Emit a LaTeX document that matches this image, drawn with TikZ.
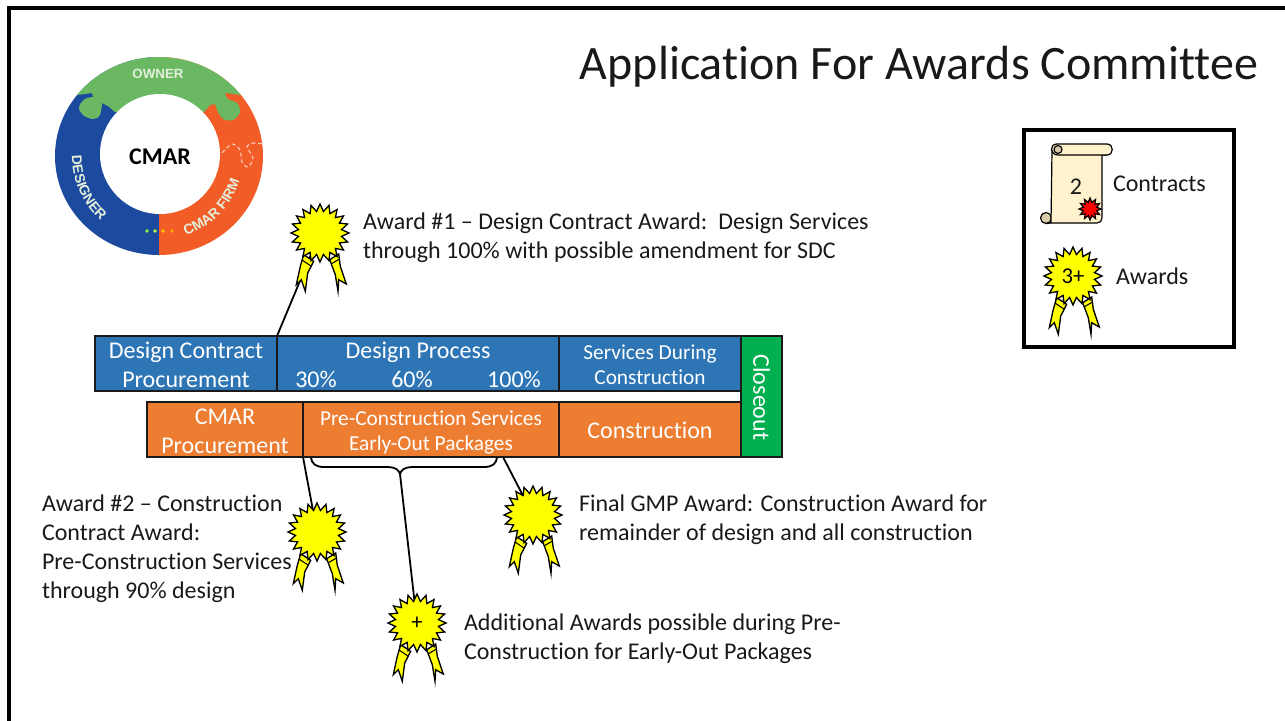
\documentclass[tikz,border=0pt]{standalone}
\usepackage{fontspec}
\setmainfont{Carlito}[Ligatures=NoCommon]
\newfontfamily\ringfont{Liberation Sans}
\usetikzlibrary{shapes.geometric,backgrounds,decorations.text}
\definecolor{barblue}{HTML}{2E75B6}
\definecolor{barorange}{HTML}{ED7D31}
\definecolor{bargreen}{HTML}{00B050}
\definecolor{barline}{HTML}{1A1A1A}
\definecolor{ringgreen}{HTML}{6BB862}
\definecolor{ringblue}{HTML}{1C4A9E}
\definecolor{ringorange}{HTML}{F25C27}
\definecolor{scrollfill}{HTML}{FFF2CC}
\definecolor{curlfill}{HTML}{D9CBA8}
\definecolor{ringtext}{HTML}{E4EFDC}
\definecolor{awardyellow}{HTML}{FFFF00}
\definecolor{sealred}{HTML}{FF0000}
\newcommand{\bodysize}{\fontsize{18}{21.75}\selectfont}
\newcommand{\midsize}{\fontsize{16}{18.75}\selectfont}
\tikzset{
  every node/.style={outer sep=0pt},
  pxsize/.style 2 args={minimum width=#1*0.75pt,minimum height=#2*0.75pt},
  barbox/.style={draw=barline,line width=1pt,inner sep=0pt,anchor=center},
  barlabel/.style={text=white,inner sep=0pt,align=center,font=\bodysize},
  bodytext/.style={inner sep=0pt,anchor=west,align=left,font=\bodysize,text=black!90},
  awardstar/.style={star,star points=20,star point ratio=1.33,draw=black,fill=awardyellow,line width=1pt,
    minimum size=58*0.75pt,inner sep=0pt,font=\fontsize{17}{17}\selectfont},
  ribbon/.style={draw=black,fill=awardyellow,line width=1pt,line join=miter},
  conn/.style={draw=black,line width=1.35pt},
  scrollpart/.style={draw=black,fill=scrollfill,line width=0.9pt},
  pics/rosette/.style={code={
    \path[ribbon] (-16.3,-21.7) -- (-6.3,-28.3) -- (-12.3,-40) -- (-14.7,-58.3) -- (-18.7,-46.7) -- (-23.7,-51.7) -- (-19.7,-33.3) -- cycle;
    \path[ribbon] (9.7,-26.7) -- (18.7,-21) -- (20.3,-33.3) -- (26.3,-51) -- (18.7,-46.7) -- (18,-58.3) -- (15.3,-41.7) -- cycle;
    \draw[black,line width=0.8pt] (-18,-27) -- (-9,-33);
    \draw[black,line width=0.8pt] (11,-31) -- (19.5,-26);
    \node[awardstar] (-star) at (0,0) {\tikzpictext};
  }},
}
\begin{document}
\begin{tikzpicture}[x=0.75pt,y=0.75pt]
\useasboundingbox (0,0) rectangle (1285,-721);
% slide frame
\draw[line width=2.4pt,black] (1285,-8) -- (9,-8) -- (9,-721);
% title
\node[inner sep=0pt,font=\fontsize{36}{42}\selectfont,text=black!90] (title) at (919,-67) {Application For Awards Committee};
% logo ring
\fill[ringblue] (159,-255) arc[start angle=270,end angle=90,x radius=104,y radius=99] -- cycle;
\fill[ringorange] (159,-57) arc[start angle=90,end angle=-90,x radius=104,y radius=99] -- cycle;
\fill[ringgreen] (159,-156) ++(142:104 and 99) arc[start angle=142,end angle=38,x radius=104,y radius=99]
  -- (225,-93) -- plot[smooth,tension=0.6] coordinates {(225,-93) (228,-99) (237,-103) (240,-112) (233,-120) (223,-119) (218,-112) (215,-104)}
  -- (210,-105) -- (204,-112) -- (115,-112) -- (108,-106) --
  plot[smooth,tension=0.6] coordinates {(102,-103) (100,-115) (93,-119) (83,-115) (79,-107) (85,-99) (93,-97)}
  -- (92,-93) -- cycle;
\node[circle,fill=white,inner sep=0pt,minimum size=120*0.75pt] (hub) at (160,-154) {};
\node[inner sep=0pt,font=\fontsize{18}{20}\selectfont\bfseries] (cmar) at (160,-157) {CMAR};
\node[inner sep=0pt,text=ringtext,font=\ringfont\fontsize{10}{12}\selectfont\bfseries] (owner) at (158,-74) {OWNER};
\path[decorate,decoration={text along path,text align=center,text={|\ringfont\fontsize{10.5}{12}\selectfont\bfseries\color{ringtext}|DESIGNER}}]
  (159,-156) ++(176:87 and 87) arc[start angle=176,end angle=232,radius=87];
\path[decorate,decoration={text along path,text align=center,text={|\ringfont\fontsize{10.5}{12}\selectfont\bfseries\color{ringtext}|CMAR FIRM}}]
  (159,-156) ++(281:84 and 84) arc[start angle=281,end angle=351,radius=84];
\fill[green!60!yellow!80!white] (147,-231) circle[radius=1.9];
\fill[green!30!yellow!80!white] (155,-231) circle[radius=1.9];
\fill[orange!40!yellow] (163,-231) circle[radius=1.9];
\fill[orange!70!yellow] (172,-231) circle[radius=1.9];
\draw[white!70!ringorange,line width=0.8pt,densely dashed] plot[smooth] coordinates {(222,-153) (232,-144) (240,-150) (242,-162) (248,-167) (253,-158) (247,-147) (253,-143) (263,-144)};
% bars
\node[barbox,pxsize={182}{55},fill=barblue] (dcp) at (186,-363.5) {};
\node[barlabel] (dcplabel) at (186,-364.5) {Design Contract\\Procurement};
\node[barbox,pxsize={282}{55},fill=barblue] (dp) at (418,-363.5) {};
\node[barlabel] (dptitle) at (418,-352) {Design Process};
\node[barlabel] (p30) at (316,-379.5) {30\%};
\node[barlabel] (p60) at (412,-379.5) {60\%};
\node[barlabel] (p100) at (514,-379.5) {100\%};
\node[barbox,pxsize={182}{55},fill=barblue] (sdc) at (650,-363.5) {};
\node[barlabel,font=\midsize] (sdclabel) at (650,-364.5) {Services During\\Construction};
\node[barbox,pxsize={156}{55},fill=barorange] (cp) at (225,-429.5) {};
\node[barlabel] (cplabel) at (225,-431.5) {CMAR\\Procurement};
\node[barbox,pxsize={256}{55},fill=barorange] (pcs) at (431,-429.5) {};
\node[barlabel,font=\midsize] (pcslabel) at (431,-432.5) {Pre-Construction Services\\Early-Out Packages};
\node[barbox,pxsize={182}{55},fill=barorange] (con) at (650,-429.5) {};
\node[barlabel] (conlabel) at (650,-430.5) {Construction};
\node[barbox,pxsize={41}{121},fill=bargreen] (close) at (761.5,-396.5) {};
\node[barlabel,rotate=-90] (closelabel) at (761.5,-397.5) {Closeout};
% texts
\node[bodytext] (t1) at (363,-238) {Award \#1 – Design Contract Award:\ \ Design Services\\through 100\% with possible amendment for SDC};
\node[bodytext] (t2) at (42,-549) {Award \#2 – Construction\\Contract Award:\\Pre-Construction Services\\through 90\% design};
\node[bodytext] (t3) at (579,-520) {Final GMP Award: Construction Award for\\remainder of design and all construction};
\node[bodytext] (t4) at (464,-639) {Additional Awards possible during Pre-\\Construction for Early-Out Packages};
% rosettes
\pic (a1) at (320,-233) {rosette};
\pic (a2) at (317,-532) {rosette};
\pic (a3) at (533,-515) {rosette};
\pic[pic text={+}] (a4) at (417,-623) {rosette};
% connectors and brace behind the rosettes
\coordinate (finalstart) at (503,-457);
\coordinate (braceL) at (311,-458);
\coordinate (braceR) at (497,-458);
\coordinate (braceTip) at (400,-474);
\begin{pgfonlayer}{background}
\draw[conn] (dp.north west) -- (a1-star.center);
\draw[conn] (cp.south east) -- (a2-star.center);
\draw[conn] (finalstart) -- (a3-star.center);
\draw[conn] (braceL) .. controls (312,-464) and (316,-467) .. (324,-467) -- (388,-467) .. controls (395,-467) and (399,-470) .. (braceTip)
  .. controls (401,-470) and (405,-467) .. (412,-467) -- (484,-467) .. controls (492,-467) and (496,-464) .. (braceR);
\draw[conn] (braceTip) -- (a4-star.center);
\end{pgfonlayer}
% legend
\node[draw=black,line width=3pt,inner sep=0pt,pxsize={210}{217},anchor=north west] (legend) at (1024,-130) {};
\draw[scrollpart,fill=curlfill] (1046,-218) circle[radius=5.5];
\draw[scrollpart] (1057,-146) -- (1052,-150) -- (1051,-223) -- (1097,-223) .. controls (1100,-223) and (1102,-221) .. (1102,-218) -- (1102,-155) -- (1107,-155) -- (1057,-146);
\draw[scrollpart] (1057,-144) -- (1107,-144) .. controls (1114,-144) and (1114,-155) .. (1107,-155) -- (1058,-155) .. controls (1050,-155) and (1049,-144) .. (1057,-144) -- cycle;
\draw[scrollpart,fill=curlfill] (1058,-149.5) circle[radius=4];
\draw[black,line width=0.9pt] (1046,-223.5) -- (1051,-223);
\node[inner sep=0pt,font=\bodysize,text=black!90] (two) at (1076,-187) {2};
\node[star,star points=12,star point ratio=1.6,draw=black,fill=sealred,line width=0.9pt,minimum size=22*0.75pt,inner sep=0pt] (seal) at (1090,-209) {};
\node[bodytext,font=\fontsize{18}{20}\selectfont] (contracts) at (1113,-184) {Contracts};
\pic[pic text={3+}] (a5) at (1073,-276) {rosette};
\node[bodytext,font=\fontsize{18}{20}\selectfont] (awards) at (1116,-276) {Awards};
\end{tikzpicture}
\end{document}
